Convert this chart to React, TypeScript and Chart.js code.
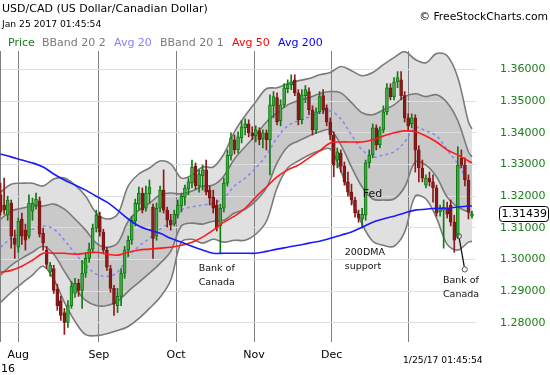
import React, { useEffect, useRef } from "react";
import { Chart, registerables } from "chart.js";
Chart.register(...registerables);

const FONT = '"DejaVu Sans", Verdana, sans-serif';

// ---- daily candles (index 0 = Jul 25 2016 ... 133 = Jan 25 2017) ----
const opens = [
  1.3204, 1.3172, 1.3140, 1.3178, 1.3067, 1.3039, 1.3128, 1.3093, 1.3074, 1.3153,
  1.3172, 1.3185, 1.3083, 1.3030, 1.2960, 1.2972, 1.2906, 1.2871, 1.2833, 1.2802,
  1.2855, 1.2893, 1.2925, 1.2903, 1.2957, 1.3004, 1.3033, 1.3099, 1.3137, 1.3087,
  1.3030, 1.2972, 1.2909, 1.2855, 1.2884, 1.2957, 1.3030, 1.3061, 1.3121, 1.3175,
  1.3210, 1.3162, 1.3207, 1.3166, 1.3074, 1.3162, 1.3219, 1.3156, 1.3124, 1.3112,
  1.3140, 1.3169, 1.3197, 1.3222, 1.3241, 1.3295, 1.3232, 1.3264, 1.3283, 1.3219,
  1.3197, 1.3172, 1.3106, 1.3162, 1.3241, 1.3327, 1.3378, 1.3346, 1.3384, 1.3416,
  1.3428, 1.3400, 1.3390, 1.3406, 1.3381, 1.3400, 1.3378, 1.3485, 1.3511, 1.3438,
  1.3488, 1.3539, 1.3552, 1.3567, 1.3526, 1.3441, 1.3517, 1.3530, 1.3472, 1.3409,
  1.3466, 1.3517, 1.3479, 1.3434, 1.3393, 1.3314, 1.3336, 1.3295, 1.3245, 1.3213,
  1.3188, 1.3143, 1.3128, 1.3140, 1.3305, 1.3330, 1.3416, 1.3362, 1.3409, 1.3466,
  1.3542, 1.3514, 1.3561, 1.3567, 1.3517, 1.3447, 1.3428, 1.3447, 1.3346, 1.3289,
  1.3235, 1.3257, 1.3245, 1.3226, 1.3150, 1.3156, 1.3162, 1.3172, 1.3118, 1.3077,
  1.3321, 1.3298, 1.3251, 1.3137,
];
const highs = [
  1.3241, 1.3257, 1.3200, 1.3188, 1.3093, 1.3131, 1.3147, 1.3112, 1.3204, 1.3194,
  1.3210, 1.3197, 1.3099, 1.3042, 1.2991, 1.2982, 1.2922, 1.2884, 1.2846, 1.2871,
  1.2931, 1.2941, 1.2938, 1.2998, 1.3023, 1.3052, 1.3112, 1.3156, 1.3150, 1.3096,
  1.3039, 1.2982, 1.2919, 1.2909, 1.2972, 1.3042, 1.3074, 1.3137, 1.3191, 1.3229,
  1.3226, 1.3232, 1.3251, 1.3175, 1.3178, 1.3232, 1.3283, 1.3166, 1.3143, 1.3156,
  1.3188, 1.3210, 1.3235, 1.3257, 1.3314, 1.3305, 1.3283, 1.3298, 1.3314, 1.3232,
  1.3219, 1.3188, 1.3175, 1.3257, 1.3346, 1.3400, 1.3393, 1.3403, 1.3438, 1.3444,
  1.3441, 1.3419, 1.3422, 1.3416, 1.3409, 1.3409, 1.3520, 1.3530, 1.3526, 1.3504,
  1.3555, 1.3567, 1.3583, 1.3583, 1.3536, 1.3536, 1.3549, 1.3542, 1.3485, 1.3479,
  1.3530, 1.3536, 1.3488, 1.3447, 1.3403, 1.3352, 1.3346, 1.3308, 1.3276, 1.3238,
  1.3197, 1.3156, 1.3162, 1.3314, 1.3346, 1.3428, 1.3425, 1.3419, 1.3485, 1.3555,
  1.3555, 1.3574, 1.3593, 1.3593, 1.3530, 1.3460, 1.3460, 1.3457, 1.3359, 1.3314,
  1.3267, 1.3276, 1.3267, 1.3235, 1.3172, 1.3188, 1.3181, 1.3188, 1.3140, 1.3356,
  1.3346, 1.3321, 1.3267, 1.3153,
];
const lows = [
  1.3140, 1.3143, 1.3124, 1.3036, 1.3004, 1.3023, 1.3048, 1.3030, 1.3067, 1.3124,
  1.3159, 1.3071, 1.3030, 1.2972, 1.2947, 1.2893, 1.2840, 1.2808, 1.2764, 1.2786,
  1.2846, 1.2881, 1.2884, 1.2846, 1.2944, 1.2991, 1.3023, 1.3087, 1.3074, 1.3020,
  1.2966, 1.2897, 1.2824, 1.2833, 1.2855, 1.2941, 1.3010, 1.3048, 1.3106, 1.3156,
  1.3147, 1.3153, 1.3178, 1.3004, 1.3061, 1.3150, 1.3147, 1.3102, 1.3093, 1.3106,
  1.3131, 1.3150, 1.3172, 1.3204, 1.3226, 1.3222, 1.3213, 1.3219, 1.3204, 1.3172,
  1.3147, 1.3090, 1.3020, 1.3150, 1.3232, 1.3314, 1.3333, 1.3336, 1.3368, 1.3393,
  1.3387, 1.3378, 1.3371, 1.3362, 1.3352, 1.3346, 1.3267, 1.3447, 1.3425, 1.3422,
  1.3479, 1.3526, 1.3536, 1.3517, 1.3425, 1.3428, 1.3495, 1.3457, 1.3393, 1.3397,
  1.3460, 1.3460, 1.3422, 1.3378, 1.3261, 1.3289, 1.3276, 1.3235, 1.3200, 1.3172,
  1.3134, 1.3118, 1.3099, 1.3124, 1.3289, 1.3321, 1.3346, 1.3352, 1.3400, 1.3457,
  1.3504, 1.3504, 1.3542, 1.3504, 1.3434, 1.3409, 1.3416, 1.3276, 1.3245, 1.3245,
  1.3226, 1.3232, 1.3181, 1.3137, 1.3137, 1.3036, 1.3131, 1.3106, 1.3023, 1.3067,
  1.3289, 1.3232, 1.3128, 1.3131,
];
const closes = [
  1.3150, 1.3156, 1.3188, 1.3074, 1.3048, 1.3121, 1.3074, 1.3061, 1.3178, 1.3178,
  1.3191, 1.3080, 1.3052, 1.2985, 1.2982, 1.2903, 1.2855, 1.2824, 1.2802, 1.2855,
  1.2916, 1.2925, 1.2903, 1.2957, 1.3004, 1.3033, 1.3099, 1.3140, 1.3087, 1.3030,
  1.2976, 1.2909, 1.2859, 1.2884, 1.2957, 1.3030, 1.3061, 1.3124, 1.3178, 1.3210,
  1.3156, 1.3210, 1.3229, 1.3067, 1.3162, 1.3219, 1.3156, 1.3124, 1.3109, 1.3143,
  1.3172, 1.3200, 1.3226, 1.3245, 1.3292, 1.3232, 1.3270, 1.3283, 1.3213, 1.3194,
  1.3162, 1.3099, 1.3162, 1.3241, 1.3330, 1.3384, 1.3346, 1.3387, 1.3419, 1.3428,
  1.3400, 1.3390, 1.3409, 1.3378, 1.3400, 1.3378, 1.3488, 1.3514, 1.3434, 1.3488,
  1.3542, 1.3552, 1.3561, 1.3526, 1.3441, 1.3520, 1.3536, 1.3472, 1.3409, 1.3466,
  1.3514, 1.3472, 1.3434, 1.3393, 1.3298, 1.3340, 1.3295, 1.3245, 1.3213, 1.3188,
  1.3147, 1.3131, 1.3143, 1.3305, 1.3330, 1.3416, 1.3362, 1.3409, 1.3466, 1.3542,
  1.3514, 1.3561, 1.3574, 1.3517, 1.3447, 1.3422, 1.3447, 1.3346, 1.3289, 1.3257,
  1.3257, 1.3245, 1.3226, 1.3147, 1.3159, 1.3166, 1.3143, 1.3118, 1.3061, 1.3298,
  1.3298, 1.3251, 1.3150, 1.31439,
];

// ---- indicator lines, read at these candle positions ----
const bandIdx = [
  0, 3, 6, 9, 12, 15, 18, 21, 24, 27, 30, 33, 36, 39, 42, 45, 48, 51, 54, 57, 60, 63, 66,
  69, 72, 75, 78, 81, 84, 87, 90, 93, 96, 99, 102, 105, 108, 111, 114, 117, 120, 123, 126,
  129, 132, 133,
];
const bb2Upper = [
  1.3213, 1.3238, 1.3241, 1.3241, 1.3232, 1.3254, 1.3257, 1.3235, 1.3200, 1.3147, 1.3128,
  1.3143, 1.3232, 1.3270, 1.3289, 1.3311, 1.3302, 1.3257, 1.3267, 1.3292, 1.3292, 1.3333,
  1.3403, 1.3454, 1.3498, 1.3539, 1.3542, 1.3555, 1.3564, 1.3571, 1.3583, 1.3590, 1.3609,
  1.3596, 1.3580, 1.3590, 1.3615, 1.3637, 1.3656, 1.3631, 1.3621, 1.3650, 1.3643, 1.3574,
  1.3434, 1.3412,
];
const bb1Upper = [
  1.3128, 1.3153, 1.3162, 1.3169, 1.3169, 1.3175, 1.3159, 1.3128, 1.3093, 1.3052, 1.3039,
  1.3052, 1.3121, 1.3156, 1.3178, 1.3204, 1.3210, 1.3207, 1.3216, 1.3232, 1.3235, 1.3264,
  1.3318, 1.3356, 1.3393, 1.3434, 1.3463, 1.3488, 1.3501, 1.3511, 1.3523, 1.3530, 1.3526,
  1.3495, 1.3463, 1.3457, 1.3472, 1.3488, 1.3514, 1.3523, 1.3514, 1.3520, 1.3495, 1.3438,
  1.3340, 1.3324,
];
const avg20 = [
  1.3039, 1.3067, 1.3083, 1.3096, 1.3106, 1.3096, 1.3061, 1.3020, 1.2982, 1.2954, 1.2947,
  1.2960, 1.3010, 1.3042, 1.3067, 1.3096, 1.3118, 1.3156, 1.3166, 1.3172, 1.3178, 1.3194,
  1.3232, 1.3257, 1.3289, 1.3330, 1.3384, 1.3422, 1.3438, 1.3450, 1.3463, 1.3469, 1.3444,
  1.3393, 1.3346, 1.3324, 1.3330, 1.3340, 1.3371, 1.3416, 1.3406, 1.3390, 1.3346, 1.3302,
  1.3245, 1.3235,
];
const bb1Lower = [
  1.2951, 1.2982, 1.3004, 1.3023, 1.3042, 1.3017, 1.2963, 1.2912, 1.2871, 1.2855, 1.2855,
  1.2868, 1.2900, 1.2928, 1.2957, 1.2988, 1.3026, 1.3106, 1.3115, 1.3112, 1.3121, 1.3124,
  1.3147, 1.3159, 1.3185, 1.3226, 1.3305, 1.3356, 1.3374, 1.3390, 1.3403, 1.3409, 1.3362,
  1.3292, 1.3229, 1.3191, 1.3188, 1.3191, 1.3229, 1.3308, 1.3298, 1.3261, 1.3197, 1.3166,
  1.3150, 1.3147,
];
const bb2Lower = [
  1.2865, 1.2897, 1.2925, 1.2951, 1.2979, 1.2938, 1.2865, 1.2805, 1.2763, 1.2760, 1.2766,
  1.2776, 1.2789, 1.2814, 1.2846, 1.2881, 1.2935, 1.3055, 1.3064, 1.3052, 1.3064, 1.3055,
  1.3061, 1.3061, 1.3080, 1.3121, 1.3226, 1.3289, 1.3311, 1.3330, 1.3343, 1.3349, 1.3279,
  1.3191, 1.3112, 1.3058, 1.3045, 1.3042, 1.3087, 1.3200, 1.3191, 1.3131, 1.3048, 1.3030,
  1.3055, 1.3058,
];
const avg50 = [
  1.2960, 1.2966, 1.2979, 1.2998, 1.3020, 1.3020, 1.3020, 1.3017, 1.3020, 1.3023, 1.3017,
  1.3014, 1.3023, 1.3030, 1.3033, 1.3036, 1.3039, 1.3045, 1.3055, 1.3071, 1.3093, 1.3118,
  1.3137, 1.3162, 1.3197, 1.3229, 1.3261, 1.3283, 1.3298, 1.3321, 1.3343, 1.3368, 1.3371,
  1.3371, 1.3371, 1.3378, 1.3390, 1.3400, 1.3406, 1.3403, 1.3390, 1.3371, 1.3346, 1.3330,
  1.3311, 1.3305,
];
const avg200 = [
  1.3333, 1.3324, 1.3314, 1.3305, 1.3292, 1.3270, 1.3251, 1.3235, 1.3219, 1.3200, 1.3181,
  1.3156, 1.3128, 1.3106, 1.3093, 1.3083, 1.3067, 1.3055, 1.3042, 1.3030, 1.3020, 1.3020,
  1.3020, 1.3020, 1.3020, 1.3026, 1.3033, 1.3039, 1.3045, 1.3052, 1.3058, 1.3067, 1.3077,
  1.3087, 1.3102, 1.3118, 1.3128, 1.3137, 1.3147, 1.3156, 1.3159, 1.3162, 1.3162, 1.3166,
  1.3169, 1.3169,
];

// ---- axes ----
const monthPos = [5, 27.7, 49.5, 71.5, 93.4, 115];
const monthLabels = ["Aug", "Sep", "Oct", "Nov", "Dec", ""];
const yTicks = [1.28, 1.29, 1.3, 1.31, 1.32, 1.33, 1.34, 1.35, 1.36];
const lastPrice = 1.31439;

// ---- annotations (candle index, price) ----
const noteText = [["Bank of", "Canada"], ["Fed"], ["200DMA", "support"], ["Bank of", "Canada"]];
const noteX = [55.9, 102.2, 97.1, 124.8];
const noteY = [1.2972, 1.3207, 1.3023, 1.2935];
const noteSize = [9.5, 11, 9.5, 9.5];
const pointerFrom = [129.3, 1.3074];
const pointerTo = [130.95, 1.2969];

const legendItems = ["Price", "BBand 20 2", "Avg 20", "BBand 20 1", "Avg 50", "Avg 200"];
const legendColors = ["#1a7a1a", "#7a7a7a", "#8080ff", "#7a7a7a", "#ff0000", "#0000ff"];
const legendX = [8, 42, 114, 160, 232, 278];

const UP = "#0e7a12";
const UP_FILL = "#47a847";
const DOWN = "#8b1a1a";

function txt(ctx: CanvasRenderingContext2D, s: string, x: number, y: number, color: string, size: number, align: CanvasTextAlign = "left") {
  ctx.fillStyle = color;
  ctx.font = `${size}px ${FONT}`;
  ctx.textAlign = align;
  ctx.textBaseline = "middle";
  ctx.fillText(s, x, y);
}

const overlay = {
  id: "overlay",
  beforeDatasetsDraw(chart: any) {
    const { ctx, chartArea } = chart;
    ctx.save();
    ctx.strokeStyle = "#7f7f7f";
    ctx.lineWidth = 1;
    ctx.beginPath();
    ctx.moveTo(chartArea.left + 0.5, chartArea.top);
    ctx.lineTo(chartArea.left + 0.5, chartArea.bottom);
    ctx.stroke();
    ctx.restore();
  },
  afterDraw(chart: any) {
    const { ctx } = chart;
    const xs = chart.scales.x;
    const ys = chart.scales.y;
    ctx.save();
    // header
    txt(ctx, "USD/CAD (US Dollar/Canadian Dollar)", 2, 9, "#000", 11);
    txt(ctx, "Jan 25 2017 01:45:54", 2, 25, "#000", 9.2);
    txt(ctx, "\u00A9 FreeStockCharts.com", 548, 17, "#000", 10.8, "right");
    legendItems.forEach((s, i) => txt(ctx, s, legendX[i], 43, legendColors[i], 11));
    // footer
    txt(ctx, "16", 1, 369, "#000", 11);
    txt(ctx, "1/25/17 01:45:54", 403, 361, "#000", 9.2);
    // notes
    noteText.forEach((lines, i) => {
      const px = xs.getPixelForValue(noteX[i]);
      const py = ys.getPixelForValue(noteY[i]);
      lines.forEach((l, k) => txt(ctx, l, px, py + k * 14, "#111", noteSize[i]));
    });
    // pointer
    const ax = xs.getPixelForValue(pointerFrom[0]);
    const ay = ys.getPixelForValue(pointerFrom[1]);
    const bx = xs.getPixelForValue(pointerTo[0]);
    const by = ys.getPixelForValue(pointerTo[1]);
    const len = Math.hypot(bx - ax, by - ay);
    const ux = (bx - ax) / len;
    const uy = (by - ay) / len;
    ctx.strokeStyle = "#111";
    ctx.lineWidth = 1.3;
    ctx.beginPath();
    ctx.moveTo(ax + ux * 2.7, ay + uy * 2.7);
    ctx.lineTo(bx - ux * 2.7, by - uy * 2.7);
    ctx.stroke();
    ctx.strokeStyle = "#555";
    ctx.lineWidth = 1;
    [[ax, ay], [bx, by]].forEach(([cx, cy]) => {
      ctx.beginPath();
      ctx.arc(cx, cy, 2.6, 0, Math.PI * 2);
      ctx.stroke();
    });
    // last price box
    const ly = ys.getPixelForValue(lastPrice);
    const bxl = 499, bw = 49, bh = 15;
    ctx.beginPath();
    ctx.roundRect(bxl + 0.5, Math.round(ly - bh / 2) + 0.5, bw, bh, 3);
    ctx.fillStyle = "#fff";
    ctx.fill();
    ctx.strokeStyle = "#000";
    ctx.lineWidth = 1;
    ctx.stroke();
    txt(ctx, lastPrice.toFixed(5), bxl + 2.5, Math.round(ly) + 0.5, "#000", 11);
    ctx.restore();
  },
};

export default function App() {
  const ref = useRef<HTMLCanvasElement>(null);
  useEffect(() => {
    const up = closes.map((c, i) => c >= opens[i]);
    const series = (arr: number[]) => bandIdx.map((x, k) => ({ x, y: arr[k] }));
    const body = closes.map((c, i) => ({ x: i, y: [opens[i], c] }));
    const wickLo = closes.map((c, i) => ({ x: i, y: [lows[i], Math.min(opens[i], c)] }));
    const wickHi = closes.map((c, i) => ({ x: i, y: [Math.max(opens[i], c), highs[i]] }));
    const col = (c: any) => (up[c.dataIndex] ? UP : DOWN);
    const lineBase = { type: "line", pointRadius: 0, borderWidth: 1.6, tension: 0.35 };

    const chart = new Chart(ref.current as HTMLCanvasElement, {
      type: "line",
      data: {
        datasets: [
          { ...lineBase, data: series(bb2Upper), borderColor: "#7a7a7a", backgroundColor: "#e0e0e0", fill: "+1", order: 10 },
          { ...lineBase, data: series(bb2Lower), borderColor: "#7a7a7a", fill: false, order: 11 },
          { ...lineBase, data: series(bb1Upper), borderColor: "#7a7a7a", backgroundColor: "#c9c9c9", fill: "+1", order: 8 },
          { ...lineBase, data: series(bb1Lower), borderColor: "#7a7a7a", fill: false, order: 9 },
          { ...lineBase, data: series(avg20), borderColor: "#8888f5", borderDash: [3, 3], fill: false, order: 6 },
          { type: "bar", data: wickLo, backgroundColor: col, barThickness: 1, grouped: false, order: 5 },
          { type: "bar", data: wickHi, backgroundColor: col, barThickness: 1, grouped: false, order: 5 },
          {
            type: "bar",
            data: body,
            backgroundColor: (c: any) => (up[c.dataIndex] ? UP_FILL : DOWN),
            borderColor: (c: any) => (up[c.dataIndex] ? UP : "#7a1414"),
            borderWidth: 1,
            borderSkipped: false,
            barThickness: 3,
            grouped: false,
            order: 4,
          },
          { ...lineBase, data: series(avg50), borderColor: "#ff1a1a", fill: false, order: 2 },
          { ...lineBase, data: series(avg200), borderColor: "#1a1aff", fill: false, order: 1 },
        ] as any,
      },
      options: {
        animation: false,
        responsive: true,
        maintainAspectRatio: false,
        events: [],
        layout: { padding: { top: 51, left: 0, right: 0, bottom: 0 } },
        plugins: {
          legend: { display: false },
          tooltip: { enabled: false },
          filler: { drawTime: "beforeDraw" },
        } as any,
        scales: {
          x: {
            type: "linear",
            min: -0.163,
            max: 134.13,
            offset: false,
            afterBuildTicks: (s: any) => {
              s.ticks = monthPos.map((v) => ({ value: v }));
            },
            afterFit: (s: any) => {
              s.height = 33;
            },
            grid: { color: "#7f7f7f", lineWidth: 1, drawTicks: false, offset: false },
            border: { display: false },
            ticks: {
              autoSkip: false,
              maxRotation: 0,
              padding: 7,
              color: "#000",
              font: { family: FONT, size: 11 },
              callback: (v: any) => {
                const k = monthPos.indexOf(Number(v));
                return k >= 0 ? monthLabels[k] : "";
              },
            },
          },
          y: {
            type: "linear",
            position: "right",
            min: 1.274,
            max: 1.3658,
            afterBuildTicks: (s: any) => {
              s.ticks = yTicks.map((v) => ({ value: v }));
            },
            afterFit: (s: any) => {
              s.width = 74;
            },
            grid: { color: "#dedede", lineWidth: 1, drawTicks: false },
            border: { display: false },
            ticks: {
              padding: 24,
              color: "#1b7d1b",
              font: { family: FONT, size: 11 },
              callback: (v: any) => Number(v).toFixed(5),
            },
          },
        },
      } as any,
      plugins: [overlay],
    });
    return () => chart.destroy();
  }, []);
  return (
    <div style={{ position: "fixed", left: 0, top: 0, width: 550, height: 375, background: "#fff" }}>
      <canvas ref={ref} />
    </div>
  );
}
